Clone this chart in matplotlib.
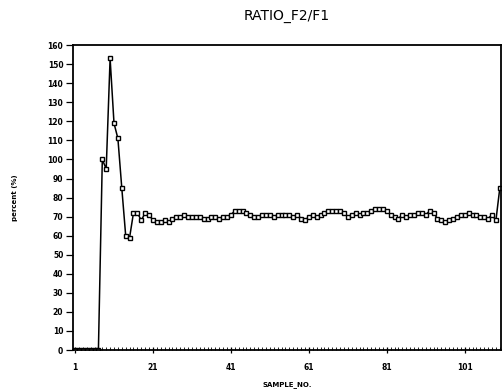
import numpy as np
import matplotlib.pyplot as plt
from matplotlib.ticker import MultipleLocator, FixedLocator

# sample numbers and ratio values (percent)
sample_no = list(range(1, 111))
ratio = [0, 0, 0, 0, 0, 0, 0, 100, 95, 153,
         119, 111, 85, 60, 59, 72, 72, 68, 72, 71,
         68, 67, 67, 68, 67, 69, 70, 70, 71, 70,
         70, 70, 70, 69, 69, 70, 70, 69, 70, 70,
         71, 73, 73, 73, 72, 71, 70, 70, 71, 71,
         71, 70, 71, 71, 71, 71, 70, 71, 69, 68,
         70, 71, 70, 71, 72, 73, 73, 73, 73, 72,
         70, 71, 72, 71, 72, 72, 73, 74, 74, 74,
         73, 71, 70, 69, 71, 70, 71, 71, 72, 72,
         71, 73, 72, 69, 68, 67, 68, 69, 70, 71,
         71, 72, 71, 71, 70, 70, 69, 71, 68, 85]
x_ticks = [1, 21, 41, 61, 81, 101]

fig = plt.figure(figsize=(5.04, 3.92), dpi=100)
ax = fig.add_axes([0.145, 0.107, 0.849, 0.778])

ax.plot(sample_no, ratio, color='black', lw=1.1, marker='s', ms=3.2,
        mfc='white', mec='black', mew=1.0)

ax.set_xlim(0.5, 110.3)
ax.set_ylim(0, 160)
ax.xaxis.set_major_locator(FixedLocator(x_ticks))
ax.xaxis.set_minor_locator(MultipleLocator(1))
ax.yaxis.set_major_locator(MultipleLocator(10))

ax.tick_params(axis='y', which='major', direction='out', length=5, width=0.9,
               labelsize=5.5, pad=2)
ax.tick_params(axis='x', which='major', direction='inout', length=5, width=0.9,
               labelsize=5.5, pad=7)
ax.tick_params(axis='x', which='minor', direction='in', length=2, width=0.6)
for lab in ax.get_xticklabels() + ax.get_yticklabels():
    lab.set_fontweight('bold')

for s in ax.spines.values():
    s.set_linewidth(1.3)

ax.set_title('RATIO_F2/F1', fontsize=10, pad=18)
ax.set_xlabel('SAMPLE_NO.', fontsize=5, fontweight='bold', labelpad=6)
ax.set_ylabel('percent (%)', fontsize=5, fontweight='bold', labelpad=21)

fig.savefig('out.png', dpi=100)
